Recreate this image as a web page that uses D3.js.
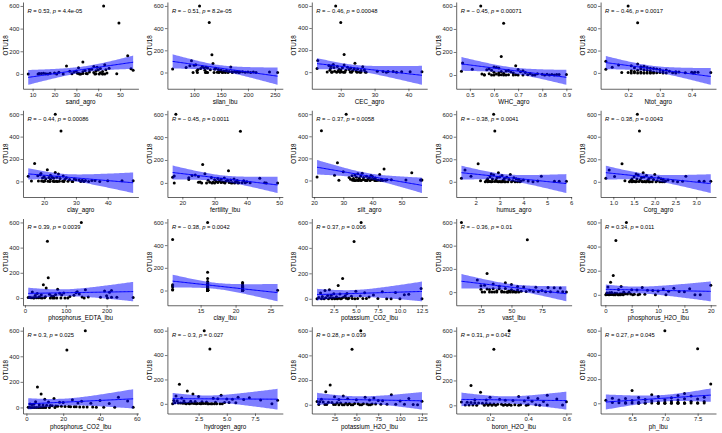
<!DOCTYPE html>
<html><head><meta charset="utf-8">
<script src="https://cdn.jsdelivr.net/npm/d3@7"></script>
<style>body{margin:0;background:#fff}svg{display:block}</style>
</head><body><svg id="c" width="722" height="433"></svg>
<script>
// OTU18 abundance per sample (shared across panels)
const otu18 = [600,450,160,105,80,70,65,60,55,50,48,45,42,40,38,35,32,30,28,26,24,22,20,18,16,14,12,10,9,8,7,6,5,5,4,4,3,3,2,2,2,1,1,1,0,0,0,0,0,0,0,0,0,0,0];

const xLabels = ["sand_agro","silan_lbu","CEC_agro","WHC_agro","Ntot_agro",
  "clay_agro","fertility_lbu","silt_agro","humus_agro","Corg_agro",
  "phosphorus_EDTA_lbu","clay_lbu","potassium_CO2_lbu","vast_lbu","phosphorus_H2O_lbu",
  "phosphorus_CO2_lbu","hydrogen_agro","potassium_H2O_lbu","boron_H2O_lbu","ph_lbu"];
const rLabels = ["0.53","− 0.51","− 0.46","− 0.45","− 0.46",
  "− 0.44","− 0.45","− 0.37","− 0.38","− 0.38",
  "0.39","− 0.38","0.37","− 0.36","0.34",
  "0.3","− 0.3","0.28","0.31","0.27"];
const pLabels = ["4.4e-05","8.2e-05","0.00048","0.00071","0.0017",
  "0.00086","0.0011","0.0058","0.0041","0.0043",
  "0.0039","0.0042","0.006","0.01","0.011",
  "0.025","0.027","0.039","0.042","0.045"];
const xTickLabels = [
  ["10","20","30","40","50"],["100","150","200","250"],["20","30","40"],["0.5","0.6","0.7","0.8","0.9"],["0.2","0.3","0.4"],
  ["20","30","40"],["20","30","40","50"],["20","30","40","50"],["2","3","4","5","6"],["1.0","1.5","2.0","2.5","3.0"],
  ["0","100","200"],["15","20","25"],["2.5","5.0","7.5","10.0","12.5"],["25","50","75"],["0","5","10","15","20"],
  ["0","20","40","60"],["2.5","5.0","7.5"],["25","50","75","100","125"],["0.2","0.4","0.6"],["6.5","7.0","7.5"]];
const yTickLabels = ["0","200","400","600"];

const x_sand_agro = [42.5,49.5,53.5,33,43,25.5,38,39.5,31,45,41,55,37,36,43.5,40,56,34,39,30,27,42,33,36,29,22,38,41,20,44,18,30.5,31,15,14,13,33,34.5,16,39,42,28,48.5,35,8,12.5,17,21,24,31.5,38.5,40.5,42,43,32];
const x_silan_lbu = [110,128,133,95,135,103,100,92,115,168,122,85,118,125,140,112,60,138,107,145,130,150,120,160,105,155,148,175,165,180,170,190,200,210,185,240,195,143,152,178,123,158,255,163,98,106,121,125,137,146,153,171,183,205,215];
const x_CEC_agro = [18.5,20,21,13.2,24.2,17.8,21,16.5,17.2,19,26.5,22,18,20.5,23,17,13,24,25,19.5,22.5,27,20,21.5,16.8,26,23.5,24.5,18.2,19.2,30.8,32.5,34,35.5,38,40.5,44,20.2,16,17.5,22.8,25.5,27.2,26,20.8,18.8,19.8,21.2,23.2,24.8,25.8,17.3,33.5,36.5,27.5];
const x_WHC_agro = [0.545,0.64,0.63,0.47,0.69,0.60,0.61,0.62,0.58,0.51,0.70,0.57,0.59,0.66,0.72,0.65,0.465,0.63,0.71,0.67,0.60,0.73,0.62,0.68,0.64,0.75,0.58,0.78,0.61,0.55,0.80,0.82,0.84,0.86,0.87,0.90,0.56,0.63,0.66,0.69,0.74,0.76,0.85,0.60,0.62,0.65,0.64,0.56,0.59,0.68,0.70,0.72,0.77,0.81,0.83];
const x_Ntot_agro = [0.20,0.23,null,0.13,0.23,0.17,0.21,0.25,0.24,0.15,0.26,0.22,0.27,0.28,0.24,0.29,0.13,0.30,0.25,0.32,0.23,0.26,0.21,0.27,0.31,0.33,0.22,0.35,0.24,0.28,0.36,0.40,0.41,0.42,0.30,0.46,0.18,0.20,0.22,0.25,0.27,0.29,0.34,0.38,0.23,0.24,0.26,0.28,0.21,0.31,0.32,0.25,0.27,0.35,0.405];
const x_clay_agro = [23.5,25.3,17,21,23.5,19,24.5,18.8,22,18,26,15,20,22.5,24,21.5,27,19.5,23,25,20.5,29.5,22,26.5,28,30,31,32,33,35,36,40,44.5,48,16,18.2,19.2,20.2,21.2,22.8,23.8,24.8,25.8,27.5,28.8,31.5,19.8,21.8,23.2,24.2,26.2,29,32.5,34,37.5];
const x_fertility_lbu = [18,38,26.3,34.3,27,24,23,17.5,25,17,29,22,33,44,31,36,32,22,30,35,34,28,37,39,31.5,33.5,30.5,40,36.5,32.5,25.5,25,28.5,29.5,31,32,33,34.5,35.5,37.5,38.5,39.5,41,45.5,46,49.5,17.5,26,27.5,30,33.2,35.2,36.2,37.2,29.2];
const x_silt_agro = [31,22.5,28,44,30,53.5,36.5,35,42.5,34,27,39.5,33,36,38,40,21,34.5,37,32,39,41,35.5,33.5,38.5,40.5,32.5,36.8,39.8,43,45,46.5,51.5,56.5,57,56.8,28.5,33.2,34.8,35.8,37.5,41.5,42,44.5,33.8,36.2,37.8,39.2,40.8,42.8,34.2,35.2,38.2,41.2,43.5];
const x_humus_agro = [2.75,2.8,2.1,1.55,2.95,2.65,3.45,2.75,3.1,4.75,1.8,2.6,3.0,3.3,2.9,3.6,1.4,3.2,3.7,2.5,2.7,3.8,3.4,2.85,4.0,3.15,2.45,3.55,2.2,3.9,4.2,4.6,5.3,5.5,5.8,2.55,2.6,2.7,2.8,2.9,3.0,3.1,3.25,3.35,3.5,3.65,3.75,2.4,2.65,2.95,3.05,4.4,3.85,2.5,3.2];
const x_Corg_agro = [1.58,1.63,1.21,0.9,1.72,1.55,2.0,1.6,1.8,2.75,1.03,1.5,1.74,1.92,1.68,2.09,0.82,1.86,2.15,1.45,1.57,2.2,1.97,1.65,2.32,1.83,1.42,2.06,1.28,2.26,2.44,2.67,3.07,3.19,3.35,1.48,1.51,1.56,1.62,1.69,1.75,1.8,1.88,1.94,2.03,2.12,2.18,1.39,1.54,1.71,1.77,2.55,2.23,1.45,1.86];
const x_phosphorus_EDTA_lbu = [138,55,57,45,52,80,148,212,195,128,18,207,125,95,85,30,133,60,75,40,90,120,25,200,65,70,110,35,50,140,155,185,212,225,265,8,10,12,15,20,28,33,38,48,62,68,78,88,98,105,145,202,22,42,72];
const x_clay_lbu = [16,11,16,16,16,21,16,21,16,11,16,21,11,16,21,16,11,16,21,16,16,21,16,16,21,16,16,21,11,16,21,16,16,21,11,16,26,16,21,16,21,16,21,16,16,21,16,21,16,16,21,16,16,21,16];
const x_potassium_CO2_lbu = [5.6,4.8,3.5,3.0,12.4,2.0,1.5,5.0,8.0,9.5,6.0,1.0,4.0,2.5,3.2,11.0,10.5,7.0,2.2,1.8,3.8,5.5,4.5,1.2,2.8,6.5,3.6,0.8,1.6,2.1,2.4,2.7,3.1,3.4,3.9,4.2,4.6,5.2,5.8,6.2,7.5,8.5,9.0,10.0,12.5,1.1,1.4,1.9,2.3,2.6,2.9,3.3,4.1,4.9,0.6];
const x_vast_lbu = [9,63,30,22,45,35,50,28,25,40,55,60,70,80,85,90,45,40,35,30,25,32,50,55,65,75,38,42,48,52,58,62,68,72,78,82,88,92,28,32,36,44,46,54,56,34,38,42,47,26,47,49,51,53,95];
const x_phosphorus_H2O_lbu = [4.0,2.0,1.5,1.0,20,3.0,0.5,7.0,13,16,11,2.5,5,6,8,9,10,12,14,15,3.5,4.5,1.2,0.8,0.3,1.8,2.2,2.8,3.2,3.8,4.2,4.8,5.5,6.5,7.5,0.2,0.4,0.6,0.9,1.1,1.4,1.6,1.9,2.4,2.6,3.4,5.2,6.2,9.5,11.5,17,18,0.1,0.7,2.9];
const x_phosphorus_CO2_lbu = [32,22,6,8,50,15,10,25,40,55,30,5,12,18,20,28,35,45,2,4,3,7,9,11,13,14,16,17,19,21,23,24,26,27,29,31,33,36,38,42,48,58,1,1.5,2.5,3.5,4.5,5.5,6.5,7.5,8.5,9.5,10.5,12.5,15.5];
const x_hydrogen_agro = [3.0,3.5,0.8,1.5,2.0,4.5,0.5,2.5,6.0,7.0,1.0,3.8,4.2,5.0,5.5,6.5,8.0,9.5,0.3,0.6,1.2,1.8,2.2,2.8,3.2,4.0,4.8,5.2,5.8,0.4,0.7,0.9,1.1,1.3,1.6,1.9,2.1,2.4,2.6,2.9,3.1,3.4,3.6,3.9,4.1,4.4,4.6,0.2,1.4,1.7,2.3,2.7,3.3,3.7,9.0];
const x_potassium_H2O_lbu = [55,45,20,15,90,35,25,60,70,110,40,10,30,50,65,75,80,100,125,5,8,12,18,22,28,32,38,42,48,52,58,62,68,72,78,85,95,105,115,7,14,16,24,26,34,36,44,46,54,56,64,66,120,30,40];
const x_boron_H2O_lbu = [0.30,0.22,0.10,0.15,0.5,0.35,0.2,0.4,0.45,0.55,0.25,0.12,0.18,0.28,0.32,0.38,0.42,0.48,0.6,0.05,0.08,0.1,0.12,0.14,0.16,0.18,0.2,0.22,0.24,0.26,0.28,0.3,0.33,0.36,0.4,0.44,0.5,0.58,0.07,0.09,0.11,0.13,0.17,0.19,0.21,0.23,0.27,0.29,0.31,0.35,0.39,0.46,null,null,null];
const x_ph_lbu = [7.0,7.5,7.7,6.5,7.3,6.8,7.2,7.4,6.9,7.6,6.6,7.1,6.2,6.4,7.3,7.5,6.7,7.0,7.2,6.3,6.1,6.5,6.8,7.1,7.4,7.6,6.9,7.0,7.2,6.6,6.2,6.4,6.7,7.3,7.5,6.3,6.5,6.8,7.1,7.4,7.6,6.9,7.0,7.2,7.3,6.6,6.7,7.1,6.9,7.0,7.3,7.2,6.4,6.6,7.5];

const xValues = [x_sand_agro,x_silan_lbu,x_CEC_agro,x_WHC_agro,x_Ntot_agro,
  x_clay_agro,x_fertility_lbu,x_silt_agro,x_humus_agro,x_Corg_agro,
  x_phosphorus_EDTA_lbu,x_clay_lbu,x_potassium_CO2_lbu,x_vast_lbu,x_phosphorus_H2O_lbu,
  x_phosphorus_CO2_lbu,x_hydrogen_agro,x_potassium_H2O_lbu,x_boron_H2O_lbu,x_ph_lbu];

const svg = d3.select("#c");
const W = 722/5, H = 433/4;
const m = {l:23, r:6, t:2, b:19.5};
const pw = W - m.l - m.r, ph = H - m.t - m.b;
const font = "Liberation Sans, Arial, Helvetica, sans-serif";

function tq(df){ // 97.5% t quantile (Cornish-Fisher)
  const z = 1.959964;
  return z + (z*z*z + z)/(4*df) + (5*z**5 + 16*z**3 + 3*z)/(96*df*df);
}

xValues.forEach((xs, i) => {
  const col = i % 5, row = Math.floor(i/5);
  const g = svg.append("g").attr("transform", `translate(${col*W},${row*H})`);
  const pts = xs.map((x,j) => ({x, y: otu18[j]})).filter(d => d.x != null);
  const n = pts.length;
  const mx = d3.mean(pts, d=>d.x), my = d3.mean(pts, d=>d.y);
  const sxx = d3.sum(pts, d=>(d.x-mx)**2), sxy = d3.sum(pts, d=>(d.x-mx)*(d.y-my));
  const b = sxy/sxx, a = my - b*mx;
  const sse = d3.sum(pts, d=>(d.y-a-b*d.x)**2);
  const s = Math.sqrt(sse/(n-2)), t = tq(n-2);
  const [x0,x1] = d3.extent(pts, d=>d.x);
  const grid = d3.range(80).map(k => {
    const x = x0 + (x1-x0)*k/79;
    const yh = a + b*x;
    const se = s*Math.sqrt(1/n + (x-mx)**2/sxx);
    return {x, y: yh, lo: yh - t*se, hi: yh + t*se};
  });
  const ymin = Math.min(d3.min(pts,d=>d.y), d3.min(grid,d=>d.lo));
  const ymax = Math.max(d3.max(pts,d=>d.y), d3.max(grid,d=>d.hi));
  const xr = x1-x0, yr = ymax-ymin;
  const xs_ = d3.scaleLinear().domain([x0-0.05*xr, x1+0.05*xr]).range([m.l, m.l+pw]);
  const ys_ = d3.scaleLinear().domain([ymin-0.05*yr, ymax+0.05*yr]).range([m.t+ph, m.t]);

  // points
  g.append("g").selectAll("circle").data(pts).join("circle")
    .attr("cx", d=>xs_(d.x)).attr("cy", d=>ys_(d.y)).attr("r", 1.5).attr("fill", "#000");
  // band
  g.append("path").datum(grid)
    .attr("d", d3.area().x(d=>xs_(d.x)).y0(d=>ys_(d.lo)).y1(d=>ys_(d.hi)))
    .attr("fill", "#0000ff").attr("fill-opacity", 0.5);
  // line
  g.append("path").datum(grid)
    .attr("d", d3.line().x(d=>xs_(d.x)).y(d=>ys_(d.y)))
    .attr("fill", "none").attr("stroke", "#0000ff").attr("stroke-width", 1);

  // axes
  const xt = xTickLabels[i];
  const ax = g.append("g").attr("transform", `translate(0,${m.t+ph})`)
    .call(d3.axisBottom(xs_).tickValues(xt.map(Number)).tickFormat((d,k)=>xt[k]).tickSize(2.5).tickSizeOuter(0).tickPadding(1.2));
  const ay = g.append("g").attr("transform", `translate(${m.l},0)`)
    .call(d3.axisLeft(ys_).tickValues(yTickLabels.map(Number)).tickFormat((d,k)=>yTickLabels[k]).tickSize(2.5).tickSizeOuter(0).tickPadding(1.2));
  [ax, ay].forEach(a => {
    a.selectAll("path.domain").attr("stroke", "#222").attr("stroke-width", 0.7);
    a.selectAll(".tick line").attr("stroke", "#222").attr("stroke-width", 0.6);
    a.selectAll(".tick text").attr("fill", "#222").style("font-family", font).style("font-size", "6px");
  });

  // titles
  g.append("text").attr("x", m.l + pw/2).attr("y", H - 4.3).attr("text-anchor", "middle")
    .style("font-family", font).style("font-size", "6.3px").attr("fill", "#000").text(xLabels[i]);
  g.append("text").attr("transform", `translate(7.5,${m.t + ph/2}) rotate(-90)`).attr("text-anchor", "middle")
    .style("font-family", font).style("font-size", "6.3px").attr("fill", "#000").text("OTU18");

  // annotation
  const tx = g.append("text").attr("x", m.l + 4.5).attr("y", m.t + 10.5)
    .style("font-family", font).style("font-size", "5.8px").attr("fill", "#000");
  tx.append("tspan").style("font-style", "italic").text("R");
  tx.append("tspan").text(` = ${rLabels[i]}, `);
  tx.append("tspan").style("font-style", "italic").text("p");
  tx.append("tspan").text(` = ${pLabels[i]}`);
});
</script></body></html>
